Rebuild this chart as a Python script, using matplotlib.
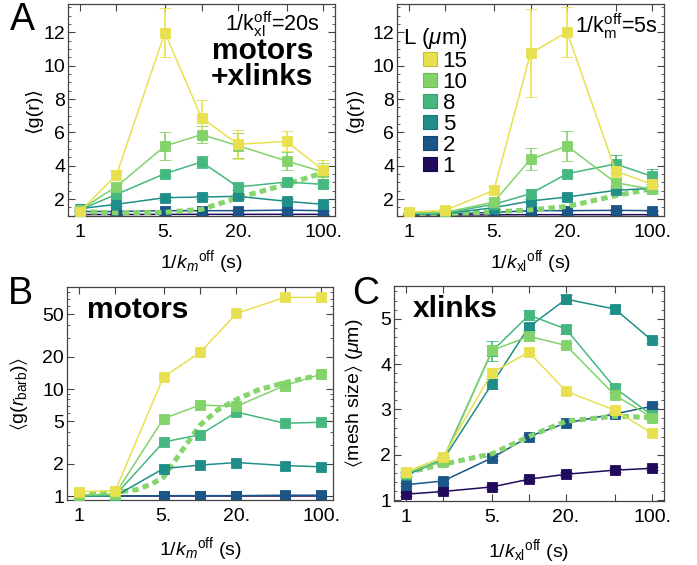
import numpy as np
import matplotlib
matplotlib.use("Agg")
import matplotlib.pyplot as plt
from matplotlib.ticker import MultipleLocator, NullLocator, NullFormatter, FixedLocator
from matplotlib.lines import Line2D

plt.rcParams['font.family'] = ['Liberation Sans', 'DejaVu Sans']
plt.rcParams['mathtext.fontset'] = 'custom'
plt.rcParams['mathtext.rm'] = 'Liberation Sans'
plt.rcParams['mathtext.it'] = 'Liberation Sans:italic'
plt.rcParams['mathtext.bf'] = 'Liberation Sans:bold'
plt.rcParams['mathtext.fallback'] = 'stixsans'

# =========================================================
# DATA
# =========================================================
off_times = [1, 2, 5, 10, 20, 50, 100]
L_values = [1, 2, 5, 8, 10, 15]

# A: <g(r)> vs 1/k_m_off, 1/k_xl_off = 20 s
A_g = {
    1:  [1.07, 1.07, 1.08, 1.08, 1.08, 1.08, 1.08],
    2:  [1.25, 1.25, 1.3, 1.3, 1.3, 1.33, 1.3],
    5:  [1.42, 1.68, 2.08, 2.12, 2.16, 1.86, 1.68],
    8:  [1.35, 2.28, 3.52, 4.22, 2.72, 3.02, 2.88],
    10: [1.35, 2.74, 5.18, 5.86, 5.2, 4.28, 3.62],
    15: [1.24, 3.44, 11.98, 6.88, 5.28, 5.46, 3.72],
}
A_err = {
    1:  [0.03] * 7,
    2:  [0.05] * 7,
    5:  [0.1, 0.1, 0.12, 0.12, 0.15, 0.12, 0.12],
    8:  [0.1, 0.15, 0.15, 0.35, 0.2, 0.18, 0.15],
    10: [0.1, 0.2, 0.85, 0.5, 0.75, 0.55, 0.55],
    15: [0.15, 0.3, 1.45, 1.05, 0.88, 0.6, 0.6],
}
A_fit_x = [1, 2, 5, 10, 20, 50, 100]
A_fit_y = [1.25, 1.16, 1.2, 1.38, 2.08, 2.88, 3.58]

# A right: <g(r)> vs 1/k_xl_off, 1/k_m_off = 5 s
A2_g = {
    1:  [1.04, 1.04, 1.05, 1.06, 1.06, 1.06, 1.06],
    2:  [1.08, 1.1, 1.2, 1.3, 1.3, 1.32, 1.3],
    5:  [1.1, 1.12, 1.48, 1.88, 2.12, 2.52, 2.64],
    8:  [1.12, 1.16, 1.68, 2.32, 3.52, 4.1, 3.36],
    10: [1.15, 1.2, 1.82, 4.38, 5.18, 2.98, 2.58],
    15: [1.22, 1.32, 2.52, 10.74, 12.02, 3.68, 2.88],
}
A2_err = {
    1:  [0.03] * 7,
    2:  [0.05] * 7,
    5:  [0.05, 0.05, 0.08, 0.12, 0.12, 0.15, 0.15],
    8:  [0.05, 0.05, 0.1, 0.3, 0.15, 0.52, 0.45],
    10: [0.05, 0.08, 0.15, 0.65, 0.88, 0.2, 0.2],
    15: [0.1, 0.1, 0.25, 2.65, 1.48, 0.35, 0.3],
}
A2_fit_x = [1, 2, 5, 10, 20, 50, 100]
A2_fit_y = [1.1, 1.12, 1.22, 1.35, 1.55, 2.2, 2.62]

# B: <g(r_barb)> vs 1/k_m_off (motors)
B_g = {
    1:  [1.0, 1.0, 1.0, 1.0, 1.0, 1.0, 1.0],
    2:  [1.0, 1.0, 1.01, 1.01, 1.01, 1.02, 1.02],
    5:  [1.0, 1.0, 1.81, 1.95, 2.06, 1.93, 1.88],
    8:  [1.0, 1.02, 3.2, 3.75, 6.1, 4.8, 4.9],
    10: [1.02, 1.05, 5.3, 7.1, 6.9, 10.8, 13.8],
    15: [1.1, 1.12, 13.0, 22.0, 51.0, 72.0, 72.0],
}
B_fit_x = [1, 2, 3, 4, 5, 7, 10, 14, 20, 30, 50, 100]
B_fit_y = [1.05, 1.08, 1.15, 1.3, 1.5, 2.6, 4.6, 6.4, 8.0, 9.8, 11.5, 13.6]

# C: <mesh size> vs 1/k_xl_off (xlinks)
C_mesh = {
    1:  [1.13, 1.19, 1.29, 1.46, 1.57, 1.66, 1.7],
    2:  [1.34, 1.42, 1.93, 2.4, 2.7, 2.9, 3.07],
    5:  [1.55, 1.88, 3.56, 4.82, 5.43, 5.21, 4.52],
    8:  [1.58, 1.9, 4.28, 5.08, 4.77, 3.47, 2.87],
    10: [1.6, 1.85, 4.3, 4.61, 4.41, 3.31, 2.82],
    15: [1.62, 1.95, 3.81, 4.26, 3.4, 2.98, 2.47],
}
C_err = {
    1:  [0.04] * 7,
    2:  [0.04] * 7,
    5:  [0.05, 0.06, 0.1, 0.08, 0.1, 0.08, 0.05],
    8:  [0.05, 0.06, 0.22, 0.1, 0.1, 0.08, 0.05],
    10: [0.05, 0.06, 0.12, 0.1, 0.06, 0.06, 0.05],
    15: [0.06, 0.06, 0.08, 0.06, 0.06, 0.06, 0.06],
}
C_fit_x = [1, 2, 5, 10, 20, 50, 100]
C_fit_y = [1.6, 1.79, 2.02, 2.4, 2.74, 2.85, 2.82]

COLORS = {15: '#E8E04F', 10: '#83D26A', 8: '#44B87E',
          5: '#1F8E89', 2: '#1B5689', 1: '#220B5C'}
EDGES = {15: '#C9BF35', 10: '#6DBB55', 8: '#36A06A',
         5: '#187873', 2: '#134570', 1: '#1A0848'}
FIT_COLOR = '#86D46C'
SPINE = '#444444'

# =========================================================
# FIGURE LAYOUT
# =========================================================
W, H = 697, 565
fig = plt.figure(figsize=(W / 100, H / 100), dpi=100)


def px_axes(l, t, r, b):
    return fig.add_axes([l / W, 1 - b / H, (r - l) / W, (b - t) / H])


axA = px_axes(68, 4, 335, 216)
axA2 = px_axes(397, 4, 664, 216)
axB = px_axes(67, 287, 333, 500)
axC = px_axes(394, 286, 664, 501)


def draw_series(ax, data, err=None):
    for L in L_values:
        e = err[L] if err is not None else None
        z = 2 if L <= 2 else 3
        ax.errorbar(off_times, data[L], yerr=e, fmt='-s', color=COLORS[L],
                    ms=7, mec=COLORS[L], mew=0.6, lw=1.1, elinewidth=1.2,
                    capsize=4, capthick=1.2, zorder=z)


def draw_fit(ax, xs, ys):
    ax.plot(xs, ys, color=FIT_COLOR, lw=3.6, dashes=(1.3, 0.85),
            dash_capstyle='butt', zorder=2.5)


def style_axes(ax):
    ax.set_xscale('log')
    ax.set_xlim(0.8, 125)
    ax.set_xticks(off_times)
    ax.set_xticklabels(['1', '', '5.', '', '20.', '', '100.'])
    ax.xaxis.set_minor_locator(NullLocator())
    ax.tick_params(which='both', direction='in', top=True, right=True,
                   color=SPINE, labelsize=14)
    ax.tick_params(which='major', length=5, width=0.8)
    ax.tick_params(which='minor', length=2.5, width=0.6)
    ax.tick_params(axis='x', pad=6)
    ax.tick_params(axis='y', pad=2)
    for s in ax.spines.values():
        s.set_color(SPINE)
        s.set_linewidth(0.9)


# =========================================================
# PANEL A (left)
# =========================================================
draw_series(axA, A_g, A_err)
draw_fit(axA, A_fit_x, A_fit_y)
style_axes(axA)
axA.set_ylim(0.98, 13.7)
axA.yaxis.set_major_locator(MultipleLocator(2))
axA.yaxis.set_minor_locator(MultipleLocator(0.5))
axA.set_ylabel('⟨g(r)⟩', fontsize=14)
axA.yaxis.set_label_coords(-0.097, 0.5)
axA.set_xlabel(r'1/$k_m{}^{\mathrm{off}}$ (s)', fontsize=14)
axA.xaxis.set_label_coords(0.5, -0.151)
axA.text(0.944, 0.975, r'1/k$_{\mathrm{xl}}^{\mathrm{off}}$=20s', transform=axA.transAxes,
         ha='right', va='top', fontsize=15.5)
axA.text(0.918, 0.845, 'motors\n+xlinks', transform=axA.transAxes,
         ha='right', va='top', fontsize=21.5, fontweight='bold', linespacing=0.92)

# =========================================================
# PANEL A (right)
# =========================================================
draw_series(axA2, A2_g, A2_err)
draw_fit(axA2, A2_fit_x, A2_fit_y)
style_axes(axA2)
axA2.set_ylim(0.98, 13.7)
axA2.yaxis.set_major_locator(MultipleLocator(2))
axA2.yaxis.set_minor_locator(MultipleLocator(0.5))
axA2.set_ylabel('⟨g(r)⟩', fontsize=14)
axA2.yaxis.set_label_coords(-0.127, 0.5)
axA2.set_xlabel(r'1/$k_{\mathrm{xl}}{}^{\mathrm{off}}$ (s)', fontsize=14)
axA2.xaxis.set_label_coords(0.5, -0.151)
axA2.text(0.978, 0.965, r'1/k$_{\mathrm{m}}^{\mathrm{off}}$=5s', transform=axA2.transAxes,
          ha='right', va='top', fontsize=15.5)

handles = [Line2D([], [], marker='s', ls='none', ms=10, mfc=COLORS[L],
                  mec=EDGES[L], mew=0.8) for L in L_values[::-1]]
labels = [str(L) for L in L_values[::-1]]
leg = axA2.legend(handles, labels, title=r'L ($\mu$m)', loc='upper left',
                  bbox_to_anchor=(0.022, 0.895), frameon=False, alignment='right',
                  handlelength=0.8, handletextpad=0.15, labelspacing=0.0,
                  borderpad=0, borderaxespad=0, fontsize=16, title_fontsize=16)

# =========================================================
# PANEL B
# =========================================================
draw_series(axB, B_g)
draw_fit(axB, B_fit_x, B_fit_y)
style_axes(axB)
axB.set_yscale('log')
axB.set_ylim(0.92, 90)
axB.yaxis.set_major_locator(FixedLocator([1, 2, 5, 10, 20, 50]))
axB.set_yticklabels(['1', '2', '5', '10', '20', '50'])
axB.yaxis.set_minor_locator(FixedLocator([3, 4, 6, 7, 8, 9, 30, 40, 60, 70, 80]))
axB.yaxis.set_minor_formatter(NullFormatter())
axB.tick_params(which='both', direction='in', top=True, right=True, color=SPINE)
axB.set_ylabel(r'$\langle$g($r_{\mathrm{barb}}$)$\rangle$', fontsize=14)
axB.yaxis.set_label_coords(-0.139, 0.5)
axB.set_xlabel(r'1/$k_m{}^{\mathrm{off}}$ (s)', fontsize=14)
axB.xaxis.set_label_coords(0.5, -0.164)
axB.text(0.075, 0.958, 'motors', transform=axB.transAxes,
         ha='left', va='top', fontsize=21.5, fontweight='bold')

# =========================================================
# PANEL C
# =========================================================
draw_series(axC, C_mesh, C_err)
draw_fit(axC, C_fit_x, C_fit_y)
style_axes(axC)
axC.set_ylim(0.98, 5.72)
axC.yaxis.set_major_locator(MultipleLocator(1))
axC.yaxis.set_minor_locator(MultipleLocator(0.2))
axC.set_ylabel(r'$\langle$mesh size$\rangle$ ($\mu$m)', fontsize=14)
axC.yaxis.set_label_coords(-0.107, 0.5)
axC.set_xlabel(r'1/$k_{\mathrm{xl}}{}^{\mathrm{off}}$ (s)', fontsize=14)
axC.xaxis.set_label_coords(0.5, -0.167)
axC.text(0.07, 0.958, 'xlinks', transform=axC.transAxes,
         ha='left', va='top', fontsize=21.5, fontweight='bold')

# Panel letters
fig.text(10 / W, 1 - 2 / H, 'A', fontsize=27, va='top', ha='left')
fig.text(8 / W, 1 - 276 / H, 'B', fontsize=27, va='top', ha='left')
fig.text(352 / W, 1 - 276 / H, 'C', fontsize=27, va='top', ha='left')

fig.savefig('out.png', dpi=100)
